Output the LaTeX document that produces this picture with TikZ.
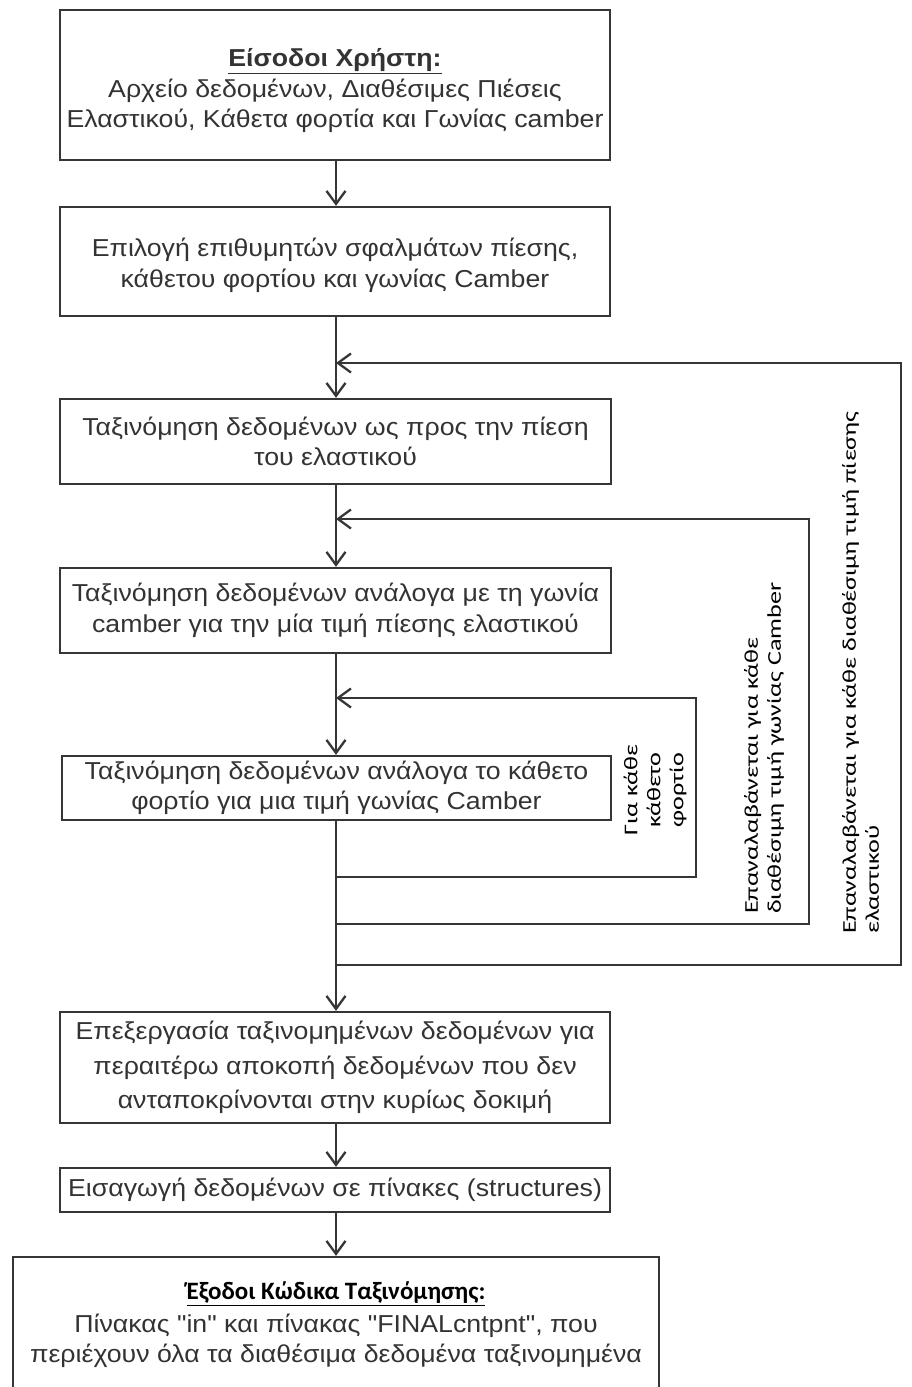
\documentclass[tikz,border=0pt]{standalone}
\usepackage{fontspec}
\setmainfont{Liberation Sans}[FakeStretch=1.09, Ligatures=TeXOff]
\newfontfamily\labfont{Carlito}[FakeStretch=1.34]
\newfontfamily\ttlfont{Carlito}
\usetikzlibrary{arrows.meta}
\definecolor{ln}{HTML}{363636}
\definecolor{tx}{HTML}{333333}
\tikzset{
  box/.style={draw=ln, line width=2.3pt, fill=white, minimum width=550pt, align=center, text=tx, inner sep=0pt,
    font=\fontsize{24.5}{30.5}\selectfont},
  conn/.style={draw=ln, line width=2.3pt},
  arr/.style={conn, -{Straight Barb[length=13pt,width=19pt,line width=2.3pt]}},
  lab/.style={rotate=90, inner sep=0pt, text=black, font=\labfont\fontsize{19.5}{23}\selectfont},
}
\begin{document}
\begin{tikzpicture}[x=1pt,y=-1pt]
\useasboundingbox (0,0) rectangle (912,1387);
\clip (0,0) rectangle (912,1387);
\fill[white] (0,0) rectangle (912,1387);
\node[box, minimum height=150pt] (b1) at (335,85) {\rule{0pt}{30pt}\underline{\textbf{Είσοδοι Χρήστη:}}\\Αρχείο δεδομένων, Διαθέσιμες Πιέσεις\\Ελαστικού, Κάθετα φορτία και Γωνίας camber};
\node[box, minimum height=109pt] (b2) at (335,261.5) {\rule{0pt}{26pt}Επιλογή επιθυμητών σφαλμάτων πίεσης,\\κάθετου φορτίου και γωνίας Camber};
\node[box, minimum height=85pt, minimum width=551pt] (b3) at (335.5,441.5) {Ταξινόμηση δεδομένων ως προς την πίεση\\του ελαστικού};
\node[box, minimum height=85pt, minimum width=551pt] (b4) at (335.5,610.5) {Ταξινόμηση δεδομένων ανάλογα με τη γωνία\\camber για την μία τιμή πίεσης ελαστικού};
\node[box, minimum height=64pt, minimum width=549pt] (b5) at (336.5,788) {Ταξινόμηση δεδομένων ανάλογα το κάθετο\\φορτίο για μια τιμή γωνίας Camber};
\node[box, minimum height=111pt, font=\fontsize{24.5}{34.5}\selectfont] (b6) at (335,1067.5) {Επεξεργασία ταξινομημένων δεδομένων για\\περαιτέρω αποκοπή δεδομένων που δεν\\ανταποκρίνονται στην κυρίως δοκιμή};
\node[box, minimum height=44pt] (b7) at (335,1190) {Εισαγωγή δεδομένων σε πίνακες (structures)};
\node[box, minimum height=136pt, minimum width=646pt] (b8) at (336,1325) {{\ttlfont\bfseries\fontsize{25}{30}\selectfont\color{black}\underline{Έξοδοι Κώδικα Ταξινόμησης:}}\\[2pt]Πίνακας "in" και πίνακας "FINALcntpnt", που\\περιέχουν όλα τα διαθέσιμα δεδομένα ταξινομημένα};

% loop junctions
\coordinate (o1) at (336,363);
\coordinate (m1) at (336,519);
\coordinate (i1) at (336,698);
\coordinate (i2) at (336,877);
\coordinate (m2) at (336,924);
\coordinate (o2) at (336,965);
\coordinate (ir) at (696,0);
\coordinate (mr) at (809,0);
\coordinate (or) at (901,0);

\draw[arr] (b1.south -| o1) -- (b2.north -| o1);
\draw[arr] (b2.south -| o1) -- (b3.north -| o1);
\draw[arr] (b3.south -| o1) -- (b4.north -| o1);
\draw[arr] (b4.south -| o1) -- (b5.north -| o1);
\draw[arr] (b5.south -| o1) -- (b6.north -| o1);
\draw[arr] (b6.south -| o1) -- (b7.north -| o1);
\draw[arr] (b7.south -| o1) -- (b8.north -| o1);

\draw[arr] (i2) -- (i2 -| ir) -- (i1 -| ir) -- (i1);
\draw[arr] (m2) -- (m2 -| mr) -- (m1 -| mr) -- (m1);
\draw[arr] (o2) -- (o2 -| or) -- (o1 -| or) -- (o1);

\node[lab, align=center] (l1) at (655,790) {Για κάθε\\κάθετο\\φορτίο};
\node[lab, align=left, anchor=north west] (l2) at (744,914) {Επαναλαβάνεται για κάθε\\διαθέσιμη τιμή γωνίας Camber};
\node[lab, align=left, anchor=north west] (l3) at (842,934) {Επαναλαβάνεται για κάθε διαθέσιμη τιμή πίεσης\\ελαστικού};
\end{tikzpicture}
\end{document}
